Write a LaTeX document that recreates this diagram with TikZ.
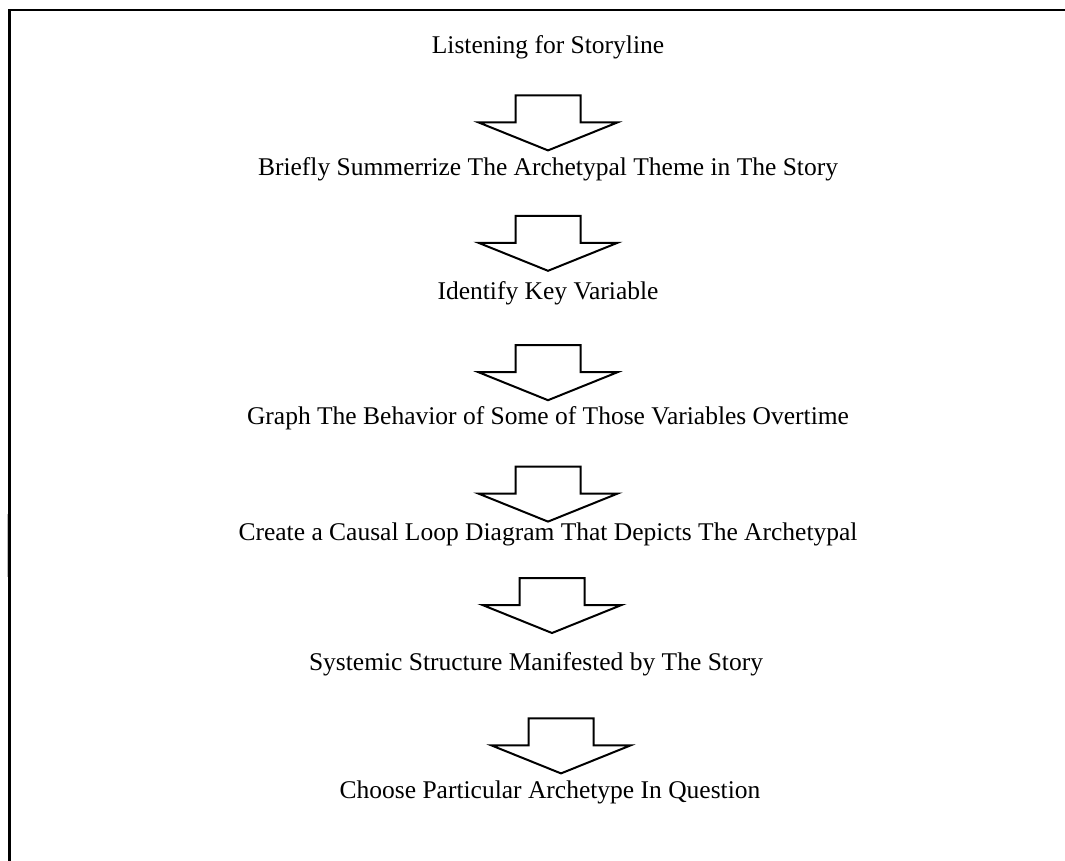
\documentclass[tikz,border=0pt]{standalone}
\usepackage{fontspec}
\setmainfont{Liberation Serif}
\usepackage{tikz}
\usetikzlibrary{positioning}
\usetikzlibrary{calc}
\tikzstyle{stage} = [rectangle,align=center,inner sep=0pt,text height=17pt,text depth=6pt,font=\fontsize{25.5}{30}\selectfont]
\tikzset{blockarrow/.style={draw,line width=2pt,line join=miter,
  to path={($(\tikztotarget)+(#1)$) -- ++(-69.5,28) -- ++(37,0) -- ++(0,27) -- ++(65,0) -- ++(0,-27) -- ++(37,0) -- cycle}}}

\begin{document}
\begin{tikzpicture}[x=1pt,y=1pt,node distance=100pt]

	\tikzstyle{frame}=[line width=2.5pt];
	\tikzstyle{mark line}=[gray!50,line width=1.2pt];

	\useasboundingbox (0,0) rectangle (1065,-860);
	\draw[frame] (1070,-10) -| (9.5,-865);
	\draw[mark line] (7.3,-514) -- (7.3,-577);

	\node (1) [stage] at (548,-48) {Listening for Storyline};
	\node (2) [stage,below=of 1,yshift=1pt] {Briefly Summerrize The Archetypal Theme in The Story};
	\node (3) [stage,below=of 2] {Identify Key Variable};
	\node (4) [stage,below=of 3,yshift=-2pt] {Graph The Behavior of Some of Those Variables Overtime};
	\node (5) [stage,below=of 4,yshift=8pt] {Create a Causal Loop Diagram That Depicts The Archetypal};
	\node (6) [stage,below=of 5,xshift=-12pt,yshift=-7pt] {Systemic Structure Manifested by The Story};
	\node (7) [stage,below=of 6,xshift=14pt,yshift=-5pt] {Choose Particular Archetype In Question};

	\path
		(1) edge[blockarrow={0,20}] (2)
		(2) edge[blockarrow={0,23}] (3)
		(3) edge[blockarrow={0,19}] (4)
		(4) edge[blockarrow={0,13}] (5)
		(5) edge[blockarrow={16,32}] (6)
		(6) edge[blockarrow={11,20}] (7);
\end{tikzpicture}
\end{document}
